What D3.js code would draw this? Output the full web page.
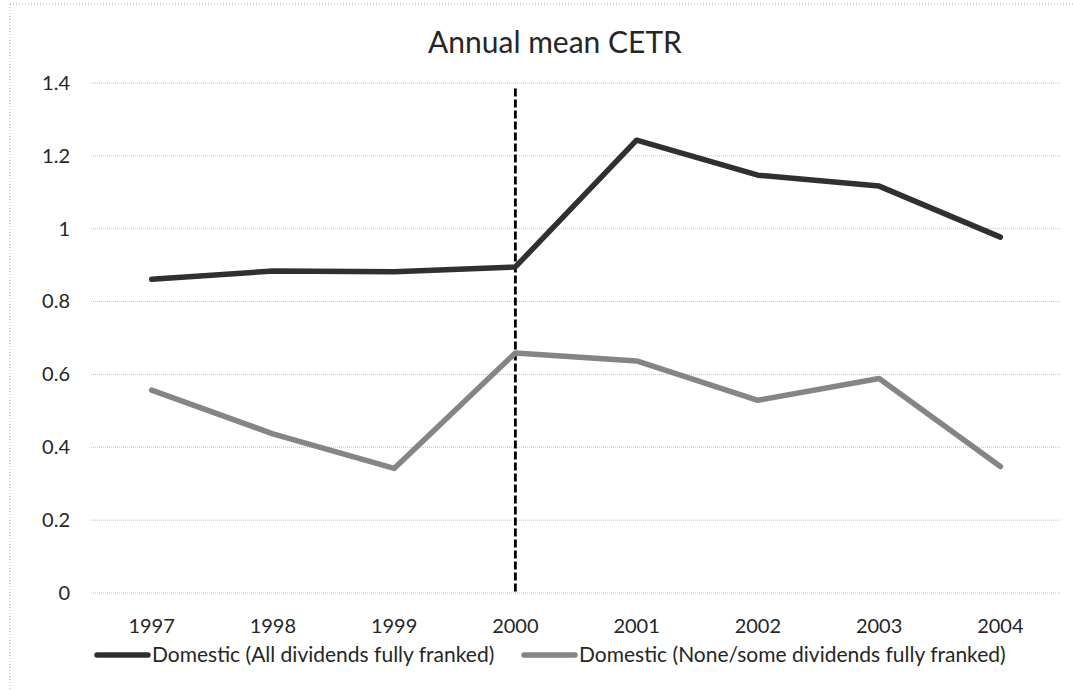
<!DOCTYPE html>
<html>
<head>
<meta charset="utf-8">
<script src="https://cdn.jsdelivr.net/npm/d3@7"></script>
<style>
  body { margin: 0; background: #fff; }
  svg text { font-family: Lato, 'Open Sans', sans-serif; fill: #262626; }
  .grid line { stroke: #c4c4c4; stroke-width: 1; stroke-dasharray: 1 1; }
  .axis path, .axis line { display: none; }
</style>
</head>
<body>
<div id="chart"></div>
<script>
const years = ['1997', '1998', '1999', '2000', '2001', '2002', '2003', '2004'];
const allFranked = [0.861, 0.884, 0.882, 0.895, 1.243, 1.147, 1.117, 0.977];
const someFranked = [0.557, 0.437, 0.342, 0.659, 0.637, 0.529, 0.589, 0.347];
const yTicks = [0, 0.2, 0.4, 0.6, 0.8, 1, 1.2, 1.4];
const seriesNames = [
  'Domestic (All dividends fully franked)',
  'Domestic (None/some dividends fully franked)',
];
const seriesColors = ['#303030', '#858585'];
const reformYear = '2000';
const reformTop = 1.385;

const W = 1073;
const H = 690;
const margin = { left: 91, right: 12, top: 83, bottom: 97 };

const svg = d3.select('#chart').append('svg')
  .attr('width', W)
  .attr('height', H);

// outer chart frame (only top and left edges are visible in the crop)
svg.append('line')
  .attr('x1', 10).attr('x2', W).attr('y1', 4).attr('y2', 4)
  .attr('stroke', '#aaa').attr('stroke-dasharray', '1 2');
svg.append('line')
  .attr('x1', 10).attr('x2', 10).attr('y1', 4).attr('y2', H)
  .attr('stroke', '#aaa').attr('stroke-dasharray', '1 2');

const x = d3.scaleBand()
  .domain(years)
  .range([margin.left, W - margin.right]);

const y = d3.scaleLinear()
  .domain([0, 1.4])
  .range([H - margin.bottom, margin.top]);

const xc = (d) => x(d) + x.bandwidth() / 2;

svg.append('g')
  .attr('class', 'grid')
  .selectAll('line')
  .data(yTicks)
  .join('line')
    .attr('x1', margin.left)
    .attr('x2', W - margin.right)
    .attr('y1', (d) => y(d))
    .attr('y2', (d) => y(d));

svg.append('g')
  .attr('class', 'axis y-axis')
  .attr('transform', `translate(${margin.left - 21}, 0)`)
  .call(d3.axisLeft(y).tickValues(yTicks).tickSize(0).tickPadding(0).tickFormat(d3.format('')))
  .call((g) => g.selectAll('text')
    .style('font-size', '20px')
    .attr('fill', '#262626'));

svg.append('g')
  .attr('class', 'axis x-axis')
  .attr('transform', `translate(0, ${H - margin.bottom})`)
  .call(d3.axisBottom(x).tickSize(0).tickPadding(26))
  .call((g) => g.selectAll('text')
    .style('font-size', '20px')
    .attr('fill', '#262626'));

// reform marker
svg.append('line')
  .attr('x1', xc(reformYear)).attr('x2', xc(reformYear))
  .attr('y1', y(reformTop)).attr('y2', y(0))
  .attr('stroke', '#000')
  .attr('stroke-width', 2.8)
  .attr('stroke-dasharray', '8 3');

const line = d3.line()
  .x((d) => xc(d.year))
  .y((d) => y(d.value));

[allFranked, someFranked].forEach((vals, i) => {
  const data = years.map((yr, j) => ({ year: yr, value: vals[j] }));
  svg.append('path')
    .datum(data)
    .attr('d', line)
    .attr('fill', 'none')
    .attr('stroke', seriesColors[i])
    .attr('stroke-width', 5.5)
    .attr('stroke-linejoin', 'round')
    .attr('stroke-linecap', 'round');
});

svg.append('text')
  .attr('x', 555)
  .attr('y', 53)
  .attr('text-anchor', 'middle')
  .style('font-size', '30px')
  .text('Annual mean CETR');

const legendX = [97, 524];
const legend = svg.append('g')
  .attr('class', 'legend')
  .selectAll('g')
  .data(seriesNames)
  .join('g')
    .attr('transform', (d, i) => `translate(${legendX[i]}, 655)`);

legend.append('line')
  .attr('x1', 0).attr('x2', 51)
  .attr('stroke', (d, i) => seriesColors[i])
  .attr('stroke-width', 5.5)
  .attr('stroke-linecap', 'round');

legend.append('text')
  .attr('x', 55)
  .attr('dy', '0.35em')
  .style('font-size', '21px')
  .text((d) => d);
</script>
</body>
</html>
